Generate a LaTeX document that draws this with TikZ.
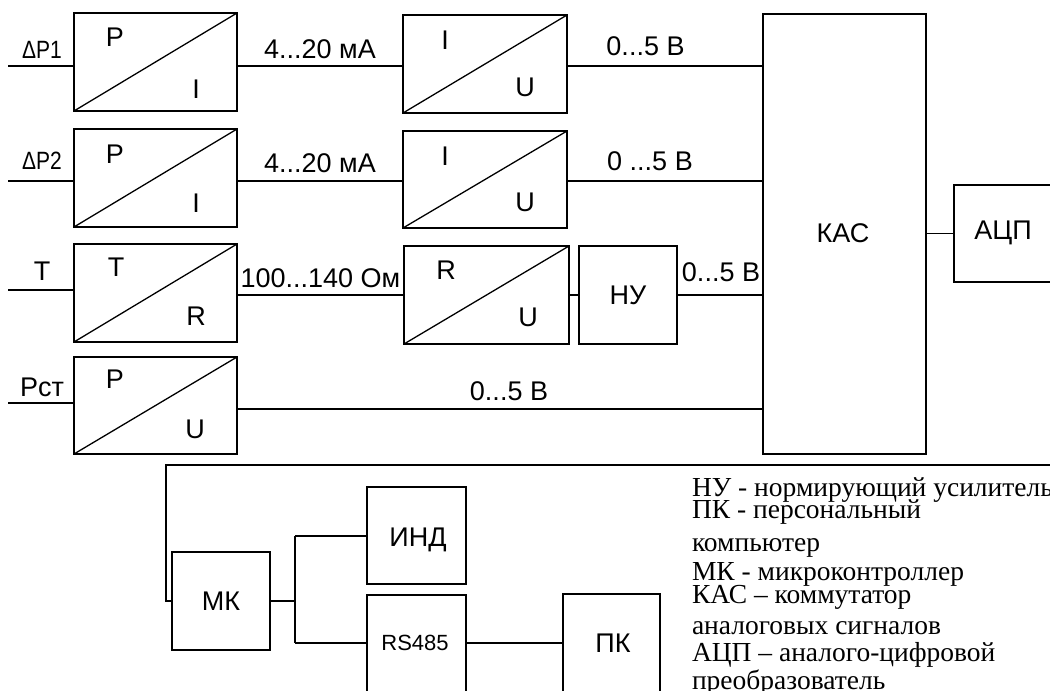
\documentclass[tikz,border=0pt]{standalone}
\usepackage{fontspec}
\setmainfont{Liberation Sans}
\newfontfamily\legendfont{Liberation Serif}
\begin{document}
\begin{tikzpicture}[x=1pt,y=-1pt,
  line width=1.3pt,
  blk/.style={draw, line width=1.3pt, inner sep=0pt, outer sep=0pt},
  lbl/.style={inner sep=0pt, outer sep=0pt, font=\fontsize{27}{32}\selectfont},
  slbl/.style={inner sep=0pt, outer sep=0pt, font=\fontsize{25}{30}\selectfont},
  leg/.style={inner sep=0pt, outer sep=0pt, anchor=base west, font=\legendfont\fontsize{27.5}{30}\selectfont}]
\useasboundingbox (0,0) rectangle (1050,691);
\clip (0,0) rectangle (1050,691);
% converter blocks
\node[blk, minimum width=163pt, minimum height=98pt] (pi1) at (155.5,62) {};
\node[blk, minimum width=163pt, minimum height=98pt] (pi2) at (155.5,178) {};
\node[blk, minimum width=163pt, minimum height=98pt] (tr) at (155.5,293) {};
\node[blk, minimum width=163pt, minimum height=97pt] (pu) at (155.5,405.5) {};
\node[blk, minimum width=164pt, minimum height=98pt] (iu1) at (485,64) {};
\node[blk, minimum width=164pt, minimum height=97pt] (iu2) at (485,179.5) {};
\node[blk, minimum width=165pt, minimum height=98pt] (ru) at (486.5,295) {};
\foreach \b in {pi1,pi2,tr,pu,iu1,iu2,ru}
  \draw (\b.south west) -- (\b.north east);
% other blocks
\node[blk, minimum width=98pt, minimum height=98pt] (nu) at (628,295) {};
\node[blk, minimum width=163pt, minimum height=440pt] (kas) at (844.5,234) {};
\node[blk, minimum width=150pt, minimum height=97pt, anchor=west] (adc) at (954,233.5) {};
\node[blk, minimum width=98pt, minimum height=98pt] (mk) at (221,601) {};
\node[blk, minimum width=99pt, minimum height=97pt] (ind) at (416.5,535.5) {};
\node[blk, minimum width=99pt, minimum height=98pt] (rs) at (416.5,644) {};
\node[blk, minimum width=97pt, minimum height=98pt] (pk) at (611.5,643) {};
% texts in blocks
\node[lbl] (tp1) at (115,37.5) {P};
\node[lbl] (ti1) at (196,89.5) {I};
\node[lbl] (tp2) at (115,154) {P};
\node[lbl] (ti2) at (196,203) {I};
\node[lbl] (tt) at (116,267) {T};
\node[lbl] (tr2) at (196,316) {R};
\node[lbl] (tp4) at (115,379) {P};
\node[lbl] (tu4) at (195,429) {U};
\node[lbl] (ii1) at (445,40) {I};
\node[lbl] (iu1u) at (525,87) {U};
\node[lbl] (ii2) at (445,156) {I};
\node[lbl] (iu2u) at (525,202.5) {U};
\node[lbl] (rr) at (446,270.5) {R};
\node[lbl] (ruu) at (528,317) {U};
\node[lbl] at (nu.center) {НУ};
\node[lbl] at (843,233) {КАС};
\node[lbl] at (1003,233) {АЦП};
\node[lbl] at (mk.center) {МК};
\node[lbl, anchor=base] at (418,546) {ИНД};
\node[inner sep=0pt, font=\fontsize{22}{26}\selectfont] at (415,643) {RS485};
\node[lbl] at (613,643) {ПК};
% inputs
\coordinate (in1) at (8,66);
\coordinate (in2) at (8,181);
\coordinate (in3) at (8,290);
\coordinate (in4) at (8,403);
\draw (in1) -- (in1 -| pi1.west);
\draw (in2) -- (in2 -| pi2.west);
\draw (in3) -- (in3 -| tr.west);
\draw (in4) -- (in4 -| pu.west);
\node[slbl] at (42,49.5) {\scalebox{0.84}[1]{ΔP1}};
\node[slbl] at (42,161) {\scalebox{0.84}[1]{ΔP2}};
\node[lbl] at (42,271) {T};
\node[lbl] at (42,387) {Рст};
% signal lines
\coordinate (r1) at (0,66);
\coordinate (r2) at (0,181);
\coordinate (r3) at (0,295);
\coordinate (r4) at (0,409);
\draw (pi1.east |- r1) -- (iu1.west |- r1);
\draw (iu1.east |- r1) -- (kas.west |- r1);
\draw (pi2.east |- r2) -- (iu2.west |- r2);
\draw (iu2.east |- r2) -- (kas.west |- r2);
\draw (tr.east |- r3) -- (ru.west |- r3);
\draw (ru.east |- r3) -- (nu.west |- r3);
\draw (nu.east |- r3) -- (kas.west |- r3);
\draw (pu.east |- r4) -- (kas.west |- r4);
\draw (kas.east |- adc.west) -- (adc.west);
\node[lbl] at (320,49) {4...20 мА};
\node[lbl] at (320,163.5) {4...20 мА};
\node[lbl] at (645.5,46.5) {0...5 В};
\node[lbl] at (650,161.5) {0 ...5 В};
\node[lbl] at (320.5,278) {100...140 Ом};
\node[lbl] at (721,272.5) {0...5 В};
\node[lbl] at (509,391) {0...5 В};
% bottom bus
\coordinate (busr) at (1060,465);
\coordinate (busl) at (166,465);
\draw (busr) -- (busl) -- (busl |- mk.west) -- (mk.west);
\coordinate (jn) at (295,601);
\draw (mk.east) -- (jn);
\draw (jn |- 0,536) -- (jn |- 0,643);
\draw (jn |- 0,536) -- (ind.west |- 0,536);
\draw (jn |- 0,643) -- (rs.west |- 0,643);
\draw (rs.east |- pk.west) -- (pk.west);
% legend
\node[leg] at (692,496) {НУ - нормирующий усилитель};
\node[leg] at (692,518) {ПК - персональный};
\node[leg] at (692,551) {компьютер};
\node[leg] at (692,580) {МК - микроконтроллер};
\node[leg] at (692,603) {КАС – коммутатор};
\node[leg] at (692,634) {аналоговых сигналов};
\node[leg] at (692,661) {АЦП – аналого-цифровой};
\node[leg] at (692,689) {преобразователь};
\end{tikzpicture}
\end{document}
